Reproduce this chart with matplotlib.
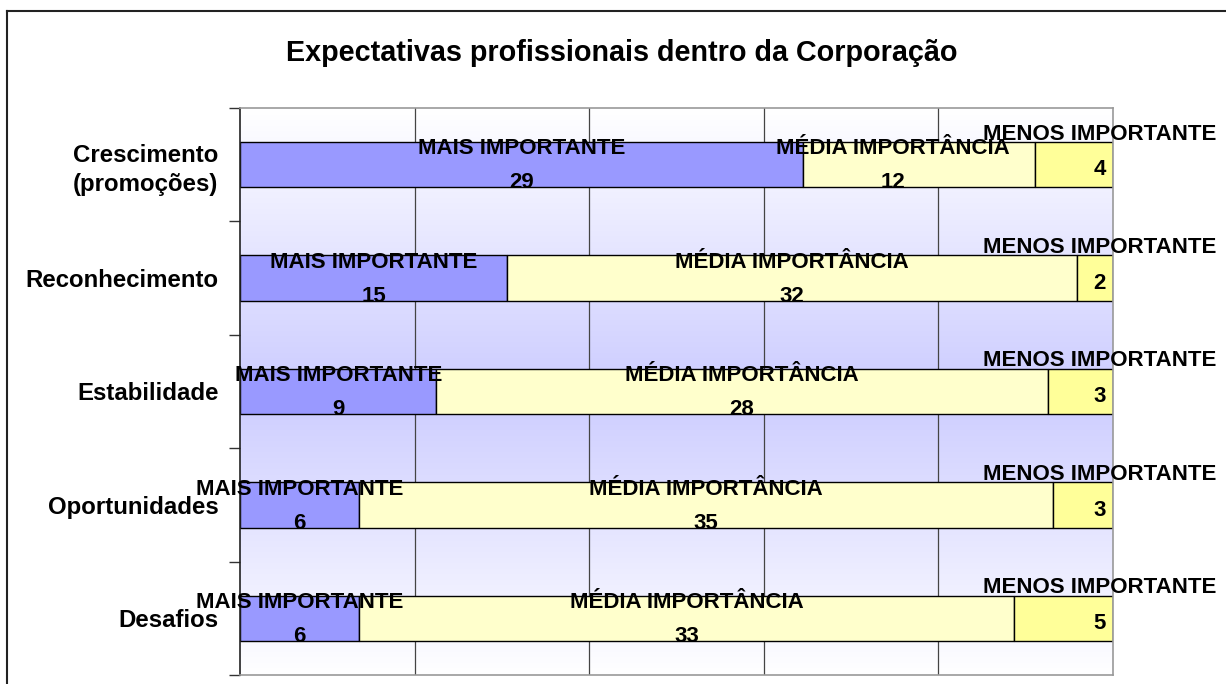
import numpy as np
import matplotlib.pyplot as plt
from matplotlib.colors import LinearSegmentedColormap
from matplotlib.lines import Line2D

categories = ["Crescimento\n(promoções)", "Reconhecimento", "Estabilidade",
              "Oportunidades", "Desafios"]
series_names = ["MAIS IMPORTANTE", "MÉDIA IMPORTÂNCIA", "MENOS IMPORTANTE"]
mais = [29, 15, 9, 6, 6]
media = [12, 32, 28, 35, 33]
menos = [4, 2, 3, 3, 5]
title = "Expectativas profissionais dentro da Corporação"

colors = ["#9999FF", "#FFFFCC", "#FFFF99"]

plt.rcParams['font.family'] = ['Liberation Sans', 'DejaVu Sans']

fig = plt.figure(figsize=(12.26, 6.84), dpi=100)
ax = fig.add_axes([240 / 1226, 1 - 675 / 684, 873 / 1226, 567 / 684])

values = np.array([mais, media, menos], dtype=float)
totals = values.sum(axis=0)
pct = values / totals * 100
y = np.arange(len(categories))

# background gradient: white -> lavender -> white
cmap = LinearSegmentedColormap.from_list("bg", ["#FFFFFF", "#CCCCFF"])
t = np.linspace(0, 1, 256)
grad = (1 - np.abs(2 * t - 1)).reshape(-1, 1)
ax.imshow(grad, extent=[0, 100, len(categories) - 0.5, -0.5], aspect='auto',
          cmap=cmap, vmin=0, vmax=1, zorder=0, interpolation='bilinear')

for gx in [20, 40, 60, 80]:
    ax.axvline(gx, color='#444444', lw=0.9, zorder=1)

label_kw = dict(ha='center', va='center', fontsize=16, fontweight='bold',
                zorder=3, clip_on=False)
left = np.zeros(len(categories))
for i, name in enumerate(series_names):
    ax.barh(y, pct[i], left=left, height=0.4, color=colors[i],
            edgecolor='black', linewidth=1.0, zorder=2)
    for j in range(len(categories)):
        cx = left[j] + pct[i][j] / 2
        if i == len(series_names) - 1:
            # last labels pushed against the chart's right edge
            cx = max(cx, 98.5)
            ax.text(cx, y[j] - 0.27, name, **label_kw)
            ax.text(cx, y[j] + 0.045, f"{int(values[i][j])}", **label_kw)
        else:
            if i == 1 and pct[i][j] < 30:
                cx -= 3  # narrow segment: nudged left to clear the neighbour label
            ax.text(cx, y[j] - 0.14, name, **label_kw)
            ax.text(cx, y[j] + 0.16, f"{int(values[i][j])}", **label_kw)
    left += pct[i]

ax.set_xlim(0, 100)
ax.set_ylim(len(categories) - 0.5, -0.5)
ax.set_xticks([])
ax.set_yticks(np.arange(-0.5, len(categories)), minor=False)
ax.set_yticklabels([])
ax.set_yticks(y, minor=True)
ax.set_yticklabels(categories, minor=True, fontsize=17.3, fontweight='bold',
                   linespacing=1.35)
ax.tick_params(axis='y', which='major', length=8, width=1, color='#333333', direction='out')
ax.tick_params(axis='y', which='minor', length=0, pad=15.5)

ax.spines['left'].set_color('#222222')
ax.spines['left'].set_linewidth(1.2)
for s in ['top', 'right', 'bottom']:
    ax.spines[s].set_color('#999999')
    ax.spines[s].set_linewidth(1.2)

fig.text(622 / 1226, 1 - 53 / 684, title, ha='center', va='center',
         fontsize=20.7, fontweight='bold')

# outer chart border
fig.add_artist(Line2D([7 / 1226, 1.0], [1 - 11 / 684, 1 - 11 / 684],
                      transform=fig.transFigure, color='#222222', lw=1.5))
fig.add_artist(Line2D([7 / 1226, 7 / 1226], [0, 1 - 11 / 684],
                      transform=fig.transFigure, color='#222222', lw=1.5))

fig.savefig("out.png", dpi=100)
